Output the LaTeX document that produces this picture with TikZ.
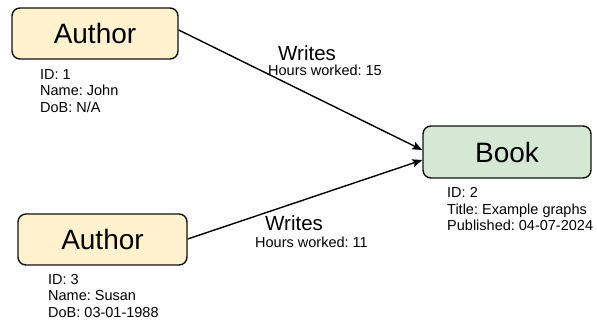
\documentclass[tikz,border=0pt]{standalone}
\usepackage{fontspec}
\setmainfont{Liberation Sans}
\usetikzlibrary{arrows.meta}
\definecolor{authorfill}{HTML}{FFF2CC}
\definecolor{bookfill}{HTML}{D5E8D4}
\definecolor{edgeclr}{HTML}{111111}
\frenchspacing
\begin{document}
\begin{tikzpicture}[x=1pt,y=-1pt,
  entity/.style={draw=edgeclr, line width=1.4pt, rounded corners=8pt,
    inner sep=0pt, font=\fontsize{28}{32}\selectfont},
  attrs/.style={anchor=base west, inner sep=0pt, align=left,
    font=\fontsize{14.5}{16.5}\selectfont},
  rel/.style={anchor=base west, inner sep=0pt, font=\fontsize{20.5}{24}\selectfont},
  relattr/.style={anchor=base west, inner sep=0pt, font=\fontsize{14.5}{16.5}\selectfont},
  link/.style={draw=black, line width=1.4pt, -{Stealth[length=10pt,width=8pt,inset=2pt]}}
]
\useasboundingbox (0,0) rectangle (597,322);

% entities
\node[entity, fill=authorfill, minimum width=166pt, minimum height=51pt] (a1) at (95,33.5) {Author};
\node[entity, fill=authorfill, minimum width=169pt, minimum height=51pt] (a2) at (102.5,239.5) {Author};
\node[entity, fill=bookfill, minimum width=168pt, minimum height=52pt] (bk) at (507,152) {Book};

% attribute lists (base anchor sits on the last line)
\node[attrs] (a1info) at (40,112) {ID: 1\\Name: John\\DoB: N/A};
\node[attrs] (a2info) at (48,317) {ID: 3\\Name: Susan\\DoB: 03-01-1988};
\node[attrs] (bkinfo) at (447,230.5) {ID: 2\\Title: Example graphs\\Published: 04-07-2024};

% relationships
\draw[link] ([yshift=3.5pt]a1.east) -- ([yshift=2pt]bk.west);
\draw[link] ([yshift=0.5pt]a2.east) -- ([yshift=-8pt]bk.west);

\node[rel] (w1) at (278,60) {Writes};
\node[relattr] (h1) at (268,75) {Hours worked: 15};
\node[rel] (w2) at (265,230) {Writes};
\node[relattr] (h2) at (255,247) {Hours worked: 11};
\end{tikzpicture}
\end{document}
